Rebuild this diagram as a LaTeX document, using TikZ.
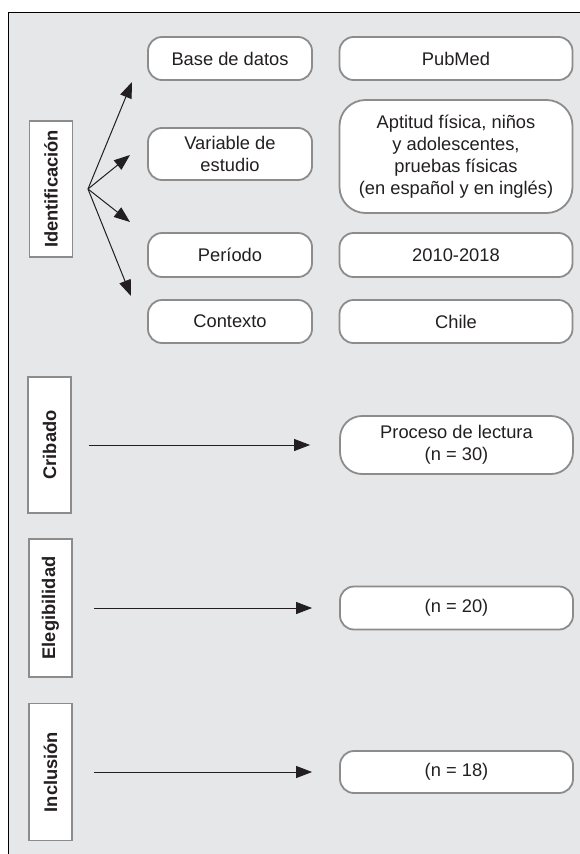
\documentclass[tikz,border=0pt]{standalone}
\usepackage{fontspec}
\setmainfont{Liberation Sans}
\usetikzlibrary{arrows.meta}
\definecolor{panel}{HTML}{E6E7E8}
\definecolor{edge}{HTML}{8C8C8C}
\definecolor{ink}{HTML}{231F20}
\begin{document}
\begin{tikzpicture}[x=1pt,y=1pt,
  every node/.style={font=\fontsize{18.3pt}{21.8pt}\selectfont, text=ink},
  phase/.style={draw=edge, line width=1.8pt, fill=white, rotate=90,
    minimum height=43pt, inner sep=0pt, font=\fontsize{18.3pt}{21.8pt}\selectfont\bfseries},
  itembox/.style={draw=edge, line width=1.8pt, fill=white, rounded corners=14pt,
    minimum width=164pt, inner sep=0pt, align=center},
  valbox/.style={itembox, minimum width=233pt},
  arr/.style={draw=ink, line width=1pt, -{Triangle[length=16pt,width=12pt]}}]
\useasboundingbox (0,0) rectangle (580,-854);
\begin{scope}
  \clip (0,0) rectangle (580,-854);
  \draw[fill=panel, line width=1pt] (8,-12) rectangle (600,-880);
\end{scope}

% phase labels
\node[phase, minimum width=136pt] (ident) at (51,-189) {Identificación};
\node[phase, minimum width=136pt] (crib) at (49.5,-445) {Cribado};
\node[phase, minimum width=138pt] (eleg) at (50.5,-608) {Elegibilidad};
\node[phase, minimum width=137pt] (incl) at (50.5,-772) {Inclusión};

% identification criteria
\node[itembox, minimum height=43pt] (base) at (230,-58.5) {Base de datos};
\node[itembox, minimum height=52pt] (var) at (230,-154) {Variable de\\estudio};
\node[itembox, minimum height=44pt] (per) at (230,-255) {Período};
\node[itembox, minimum height=43pt] (cont) at (230,-321.5) {Contexto};

\node[valbox, minimum height=43pt] (pub) at (456,-58.5) {PubMed};
\node[valbox, minimum height=113pt, rounded corners=26pt] (apt) at (456,-156.5)
  {Aptitud física, niños\\y adolescentes,\\pruebas físicas\\(en español y en inglés)};
\node[valbox, minimum height=44pt] (yr) at (456,-255) {2010-2018};
\node[valbox, minimum height=43pt] (chile) at (456,-321.5) {Chile};

% later stages
\node[valbox, minimum height=58pt, rounded corners=22pt] (proc) at (456.5,-445)
  {Proceso de lectura\\(n = 30)};
\node[valbox, minimum height=43pt] (n20) at (456.5,-608) {(n = 20)};
\node[valbox, minimum height=42pt] (n18) at (456.5,-772) {(n = 18)};

% fan of arrows from the identification label
\coordinate (hub) at (88,-189);
\coordinate (t1) at (132,-82);
\coordinate (t2) at (130,-155);
\coordinate (t3) at (130,-222);
\coordinate (t4) at (131,-296);
\draw[arr] (hub) -- (t1);
\draw[arr] (hub) -- (t2);
\draw[arr] (hub) -- (t3);
\draw[arr] (hub) -- (t4);

% stage arrows
\draw[arr, shorten <=17pt, shorten >=29pt] (crib.south) -- (proc.west);
\draw[arr, shorten <=21pt, shorten >=27pt] (eleg.south) -- (n20.west);
\draw[arr, shorten <=21pt, shorten >=27pt] (incl.south) -- (n18.west);
\end{tikzpicture}
\end{document}
